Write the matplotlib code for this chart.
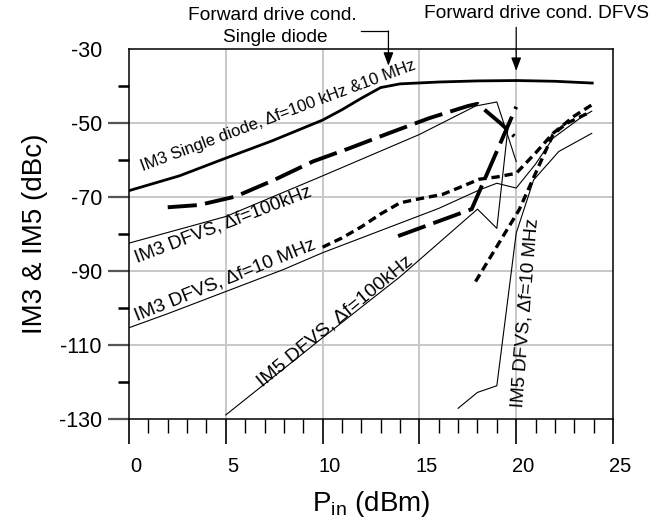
import matplotlib
matplotlib.use("Agg")
import matplotlib.pyplot as plt
from matplotlib import font_manager as fm
from matplotlib.transforms import ScaledTranslation

# ---- data (Pin in dBm, IM levels in dBc) ----
sd_x = [0, 2.6, 5, 7.4, 10, 11, 12, 13, 14, 16, 18, 20, 22, 24]
sd_y = [-68.2, -64.2, -59.4, -54.7, -49.1, -46.3, -43.2, -40.3, -39.3, -38.8, -38.5, -38.4, -38.6, -39.1]

im3_100k_x = [0, 5, 10, 15, 17.9, 19.0, 20.0]
im3_100k_y = [-82.4, -75.2, -64.2, -53.0, -45.3, -44.2, -60.3]

im3_100k_sim_x = [2, 3.6, 5.5, 7.5, 9.5, 11.4, 13.4, 15.5, 17.5, 18.0, 19.2, 19.9]
im3_100k_sim_y = [-72.7, -72.1, -69.8, -65.3, -60.3, -56.7, -52.7, -48.6, -45.3, -44.7, -50.0, -53.5]

im3_10m_x = [0, 2, 5, 8, 10, 12, 14, 16, 18.1, 19.0, 20.0, 21.0, 21.9, 23.4, 23.9]
im3_10m_y = [-105.3, -101.5, -95.5, -89.5, -85.0, -81.0, -77.0, -73.0, -68.0, -66.2, -67.5, -61.0, -54.0, -48.2, -46.7]

im3_10m_sim_x = [10, 11, 12, 13, 14, 15, 16.2, 17, 18.1, 19, 20, 21, 21.9, 23, 23.9]
im3_10m_sim_y = [-83.5, -81.0, -78.0, -74.5, -71.5, -70.4, -69.2, -67.5, -65.1, -64.5, -63.5, -58.0, -52.7, -48.0, -45.0]

im3_10m_sim2_x = [13.9, 17.7, 20.0]
im3_10m_sim2_y = [-80.5, -73.2, -45.5]

im5_100k_x = [5, 10, 14, 18.0, 19.0, 19.6]
im5_100k_y = [-128.9, -108.0, -91.5, -73.2, -78.4, -50.0]

im5_10m_x = [17.0, 18.0, 19.0, 20.0, 20.9, 22.2, 23.9]
im5_10m_y = [-127.1, -122.8, -121.0, -79.7, -65.3, -57.6, -52.7]

im5_10m_sim_x = [17.9, 20.15, 21.0, 21.9, 22.6, 23.8]
im5_10m_sim_y = [-92.8, -73.4, -63.5, -53.0, -50.0, -47.0]

x_ticks = [0, 5, 10, 15, 20, 25]
y_ticks = [-130, -110, -90, -70, -50, -30]
y_minor = [-120, -100, -80, -60, -40]

# ---- fonts ----
names = {f.name for f in fm.fontManager.ttflist}
base = "Liberation Sans" if "Liberation Sans" in names else "DejaVu Sans"
plt.rcParams["font.family"] = [base, "DejaVu Sans"]
plt.rcParams["mathtext.fontset"] = "custom"
plt.rcParams["mathtext.rm"] = base
plt.rcParams["mathtext.it"] = base
plt.rcParams["lines.scale_dashes"] = False
plt.rcParams["axes.unicode_minus"] = False

W, H = 655, 523
fig = plt.figure(figsize=(W / 100, H / 100), dpi=100)
ax = fig.add_axes([129 / W, 1 - 419 / H, (613 - 129) / W, (419 - 49.5) / H])

ax.set_xlim(0, 25)
ax.set_ylim(-130, -30)

# grid
for gx in [5, 10, 15, 20]:
    ax.axvline(gx, color="#c8c8c8", lw=1.4, zorder=0)
for gy in [-50, -70, -90, -110]:
    ax.axhline(gy, color="#c8c8c8", lw=1.4, zorder=0)

long_dash = (0, (21, 6))
short_dash = (0, (6, 3.5))

ax.plot(sd_x, sd_y, color="black", lw=2.0, solid_capstyle="butt")
ax.plot(im3_100k_x, im3_100k_y, color="black", lw=0.8)
ax.plot(im3_100k_sim_x, im3_100k_sim_y, color="black", lw=2.8, linestyle=long_dash)
ax.plot(im3_10m_x, im3_10m_y, color="black", lw=0.8)
ax.plot(im3_10m_sim_x, im3_10m_sim_y, color="black", lw=2.4, linestyle=short_dash)
ax.plot(im3_10m_sim2_x, im3_10m_sim2_y, color="black", lw=2.8, linestyle=long_dash)
ax.plot(im5_100k_x, im5_100k_y, color="black", lw=0.8)
ax.plot(im5_10m_x, im5_10m_y, color="black", lw=0.8)
ax.plot(im5_10m_sim_x, im5_10m_sim_y, color="black", lw=2.4, linestyle=short_dash)

# curve labels
lab = dict(color="black", rotation_mode="anchor", ha="left", va="baseline")
ax.text(0.7, -62.8, "IM3 Single diode, Δf=100 kHz &10 MHz", fontsize=12, rotation=20.5, **lab)
ax.text(0.4, -87.8, "IM3 DFVS, Δf=100kHz", fontsize=13.5, rotation=21.0, **lab)
ax.text(0.4, -103.5, "IM3 DFVS, Δf=10 MHz", fontsize=13.8, rotation=22.0, **lab)
ax.text(6.9, -121.4, "IM5 DFVS, Δf=100kHz", fontsize=14, rotation=39.5, **lab)
ax.text(20.3, -127.0, "IM5 DFVS, Δf=10 MHz", fontsize=13.6, rotation=85.5, **lab)

# ticks
ax.set_xticks(x_ticks)
ax.set_xticks(range(1, 25), minor=True)
ax.set_yticks(y_ticks)
ax.set_yticks(y_minor, minor=True)
ax.tick_params(axis="x", which="major", direction="out", length=18, width=1.2,
               color="black", pad=9.5, labelsize=14.5)
ax.tick_params(axis="x", which="minor", direction="out", length=10, width=1.0, color="black")
ax.tick_params(axis="y", which="major", direction="out", length=15, width=1.6,
               color="#555555", pad=4.5, labelsize=15.5)
ax.tick_params(axis="y", which="minor", direction="out", length=8, width=1.8, color="black")
ax.yaxis.get_major_ticks()[-1].tick1line.set_visible(False)
ax.yaxis.get_major_ticks()[0].tick1line.set_color("black")
off = ScaledTranslation(7 / 100, 0, fig.dpi_scale_trans)
for t in ax.get_xticklabels():
    t.set_transform(t.get_transform() + off)

for s in ax.spines.values():
    s.set_linewidth(1.1)
    s.set_color("black")

ax.set_ylabel("IM3 & IM5 (dBc)", fontsize=20, labelpad=8)
ax.set_xlabel(r"P$_{\mathrm{in}}$ (dBm)", fontsize=20, labelpad=9)

# forward drive annotations
ann = dict(fontsize=13.8, ha="center", va="center")
fig.text(272 / W, 1 - 15 / H, "Forward drive cond.", **ann)
fig.text(275 / W, 1 - 38 / H, "Single diode", **ann)
fig.text(536 / W, 1 - 13 / H, "Forward drive cond. DFVS", **ann)

ax.plot([12.0, 13.4], [-25.0, -25.0], color="black", lw=0.9, clip_on=False)
ax.annotate("", xy=(13.4, -34.4), xytext=(13.4, -25.0),
            arrowprops=dict(arrowstyle="-|>,head_length=0.8,head_width=0.3",
                            color="black", lw=0.9, shrinkA=0, shrinkB=0),
            annotation_clip=False)
ax.annotate("", xy=(20.0, -35.8), xytext=(20.0, -24.0),
            arrowprops=dict(arrowstyle="-|>,head_length=0.8,head_width=0.3",
                            color="black", lw=0.9, shrinkA=0, shrinkB=0),
            annotation_clip=False)

fig.savefig("out.png", dpi=100)
